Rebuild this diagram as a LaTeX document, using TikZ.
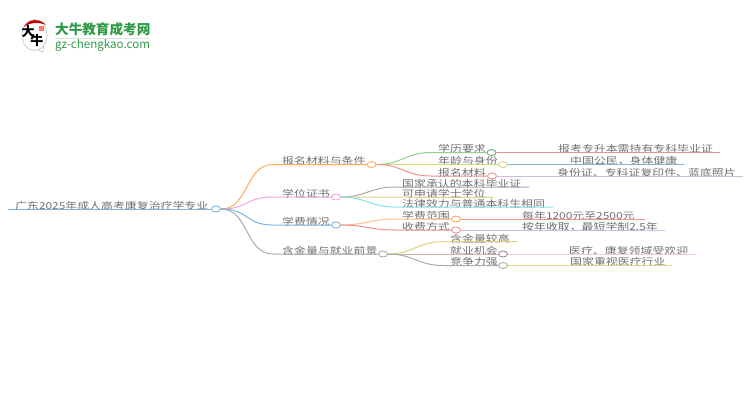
\documentclass[tikz,border=0pt]{standalone}
\usepackage{fontspec}
\setmainfont[FakeStretch=1.24]{Noto Sans CJK SC}
\newfontfamily\logofont{Noto Sans CJK SC}
\usetikzlibrary{shapes.geometric}
\definecolor{txtgray}{HTML}{707070}
\definecolor{logogreen}{HTML}{2E9A47}
\definecolor{linkblue}{HTML}{7DB3DE}
\definecolor{linkorange}{HTML}{FFA95C}
\definecolor{linkpeach}{HTML}{FFBE8A}
\definecolor{linkpink}{HTML}{EEA6E0}
\definecolor{linklight}{HTML}{F7C6E8}
\definecolor{linkgray}{HTML}{ABABAB}
\definecolor{linkgreen}{HTML}{8FD08F}
\definecolor{linkyellow}{HTML}{DAD47C}
\definecolor{linkred}{HTML}{F09090}
\definecolor{linkcyan}{HTML}{85E3E8}
\definecolor{linkpurple}{HTML}{CDBCE0}
\definecolor{linkbrown}{HTML}{CDB0A6}
\tikzset{
	lab/.style={anchor=west, inner sep=0pt, yshift=-1.2pt, text=txtgray, font=\fontsize{9.6}{10}\selectfont},
	dot/.style={ellipse, fill=white, inner sep=0pt, minimum width=9pt, minimum height=6pt, line width=0.9pt},
	link/.style={line width=1pt},
}
\begin{document}
\begin{tikzpicture}[x=1pt, y=-1pt]
	\useasboundingbox (0,0) rectangle (750,410);
	
	% logo
	\draw[line width=0.7pt, color=gray!45] (38,50) -- (43,52) -- (43.5,46);
	\draw[line width=0.7pt, color=gray!45] (34.5,35) ellipse (12.5 and 15.5);
	\fill[color=red!75!black] (24,27) .. controls (28,18.5) and (40,18) .. (46,25) .. controls (40,22) and (30,22) .. (24,27);
	\fill[color=red!55] (38.5,25.5) rectangle (44,31);
	\node[inner sep=0pt, font=\logofont\fontsize{13}{13}\selectfont\bfseries] (logoa) at (28,32) {大};
	\node[inner sep=0pt, font=\logofont\fontsize{13}{13}\selectfont\bfseries] (logob) at (37,41) {牛};
	\node[anchor=west, inner sep=0pt, text=logogreen, font=\logofont\fontsize{13.6}{14}\selectfont\bfseries] (logot) at (55,29) {大牛教育成考网};
	\node[anchor=west, inner sep=0pt, text=logogreen, font=\logofont\fontsize{11.6}{13}\selectfont] (logou) at (55,45) {gz-chengkao.com};
	\draw[color=gray!25] (55,38.5) -- (150,38.5);
	
	% centre and first level
	\coordinate (rootstart) at (8,209);
	\node[dot, draw=linkblue] (root) at (216,209) {};
	\node[lab] (roottxt) at (15,204.5) {广东2025年成人高考康复治疗学专业};
	
	\node[dot, draw=linkorange] (cond) at (371.5,164.5) {};
	\node[dot, draw=linkpink] (cert) at (336,197) {};
	\node[dot, draw=linkblue] (fee) at (336,225) {};
	\node[dot, draw=linkgray] (value) at (383,254) {};
	\coordinate (condb) at (273,164.5);
	\coordinate (certb) at (273,197);
	\coordinate (feeb) at (273,225);
	\coordinate (valueb) at (273,254);
	\node[lab] at (282,160) (condtxt) {报名材料与条件};
	\node[lab] at (282,192.5) (certtxt) {学位证书};
	\node[lab] at (282,220.5) (feetxt) {学费情况};
	\node[lab] at (282,249.5) (valuetxt) {含金量与就业前景};
	
	\draw[link, color=linkblue] (rootstart) -- (root.west);
	\draw[link, color=linkorange] (root.east) .. controls +(28,0) and +(-28,0) .. (condb) -- (cond.west);
	\draw[link, color=linkpink] (root.east) .. controls +(28,0) and +(-28,0) .. (certb) -- (cert.west);
	\draw[link, color=linkblue] (root.east) .. controls +(28,0) and +(-28,0) .. (feeb) -- (fee.west);
	\draw[link, color=linkgray] (root.east) .. controls +(28,0) and +(-28,0) .. (valueb) -- (value.west);
	
	% second level
	\node[dot, draw=linkgreen!80!black] (edu) at (491.5,152.5) {};
	\node[dot, draw=linkyellow] (age) at (503,164.5) {};
	\node[dot, draw=linkred] (docs) at (492,176) {};
	\coordinate (edub) at (431,152.5);
	\coordinate (docsb) at (431,176);
	\node[lab] at (438,148) (edutxt) {学历要求};
	\node[lab] at (438,160) (agetxt) {年龄与身份};
	\node[lab] at (438,171.5) (docstxt) {报名材料};
	\draw[link, color=linkgreen] (cond.east) .. controls +(25,0) and +(-25,0) .. (edub) -- (edu.west);
	\draw[link, color=linkyellow] (cond.east) -- (age.west);
	\draw[link, color=linkred] (cond.east) .. controls +(25,0) and +(-25,0) .. (docsb) -- (docs.west);
	
	\coordinate (degreeend) at (529,187);
	\coordinate (bachend) at (493,197.5);
	\coordinate (lawend) at (553,207);
	\coordinate (degreeb) at (395,187);
	\coordinate (lawb) at (395,207);
	\node[lab] at (402,183) (degreetxt) {国家承认的本科毕业证};
	\node[lab] at (402,193) (bachtxt) {可申请学士学位};
	\node[lab] at (402,203) (lawtxt) {法律效力与普通本科生相同};
	\draw[link, color=linkgray] (cert.east) .. controls +(25,0) and +(-25,0) .. (degreeb) -- (degreeend);
	\draw[link, color=linkyellow] (cert.east) -- (bachend);
	\draw[link, color=linkcyan] (cert.east) .. controls +(25,0) and +(-25,0) .. (lawb) -- (lawend);
	
	\node[dot, draw=linkorange] (range) at (456,219) {};
	\node[dot, draw=linkred] (way) at (456,230) {};
	\coordinate (rangeb) at (395,219);
	\coordinate (wayb) at (395,230);
	\node[lab] at (402,214.5) (rangetxt) {学费范围};
	\node[lab] at (402,226) (waytxt) {收费方式};
	\draw[link, color=linkpeach] (fee.east) .. controls +(25,0) and +(-25,0) .. (rangeb) -- (range.west);
	\draw[link, color=linkred] (fee.east) .. controls +(25,0) and +(-25,0) .. (wayb) -- (way.west);
	
	\coordinate (highend) at (517,241.7);
	\node[dot, draw=linkbrown!80!black] (job) at (503,254) {};
	\node[dot, draw=linkgray] (comp) at (503,265.5) {};
	\coordinate (highb) at (443,241.7);
	\coordinate (compb) at (443,265.5);
	\node[lab] at (450,237.5) (hightxt) {含金量较高};
	\node[lab] at (450,249.5) (jobtxt) {就业机会};
	\node[lab] at (450,261) (comptxt) {竞争力强};
	\draw[link, color=linkyellow] (value.east) .. controls +(25,0) and +(-25,0) .. (highb) -- (highend);
	\draw[link, color=linkbrown] (value.east) -- (job.west);
	\draw[link, color=linkgray] (value.east) .. controls +(25,0) and +(-25,0) .. (compb) -- (comp.west);
	
	% third level
	\coordinate (eduend) at (720,152.5);
	\coordinate (ageend) at (684,164.5);
	\coordinate (docsend) at (743,176);
	\coordinate (rangeend) at (645,219);
	\coordinate (wayend) at (665,230);
	\coordinate (jobend) at (696,254);
	\coordinate (compend) at (672,265.5);
	\node[lab] at (558,148) (eduans) {报考专升本需持有专科毕业证};
	\node[lab] at (570,160) (ageans) {中国公民，身体健康};
	\node[lab] at (557,171.5) (docsans) {身份证、专科证复印件、蓝底照片};
	\node[lab] at (522,214.5) (rangeans) {每年1200元至2500元};
	\node[lab] at (522,226) (wayans) {按年收取，最短学制2.5年};
	\node[lab] at (569,249.5) (jobans) {医疗、康复领域受欢迎};
	\node[lab] at (570,261) (compans) {国家重视医疗行业};
	\draw[link, color=linkred] (edu.east) -- (eduend);
	\draw[link, color=linkblue] (age.east) -- (ageend);
	\draw[link, color=linkpurple] (docs.east) -- (docsend);
	\draw[link, color=linkred] (range.east) -- (rangeend);
	\draw[link, color=linkpurple] (way.east) -- (wayend);
	\draw[link, color=linklight] (job.east) -- (jobend);
	\draw[link, color=linkyellow] (comp.east) -- (compend);
	
\end{tikzpicture}
\end{document}
